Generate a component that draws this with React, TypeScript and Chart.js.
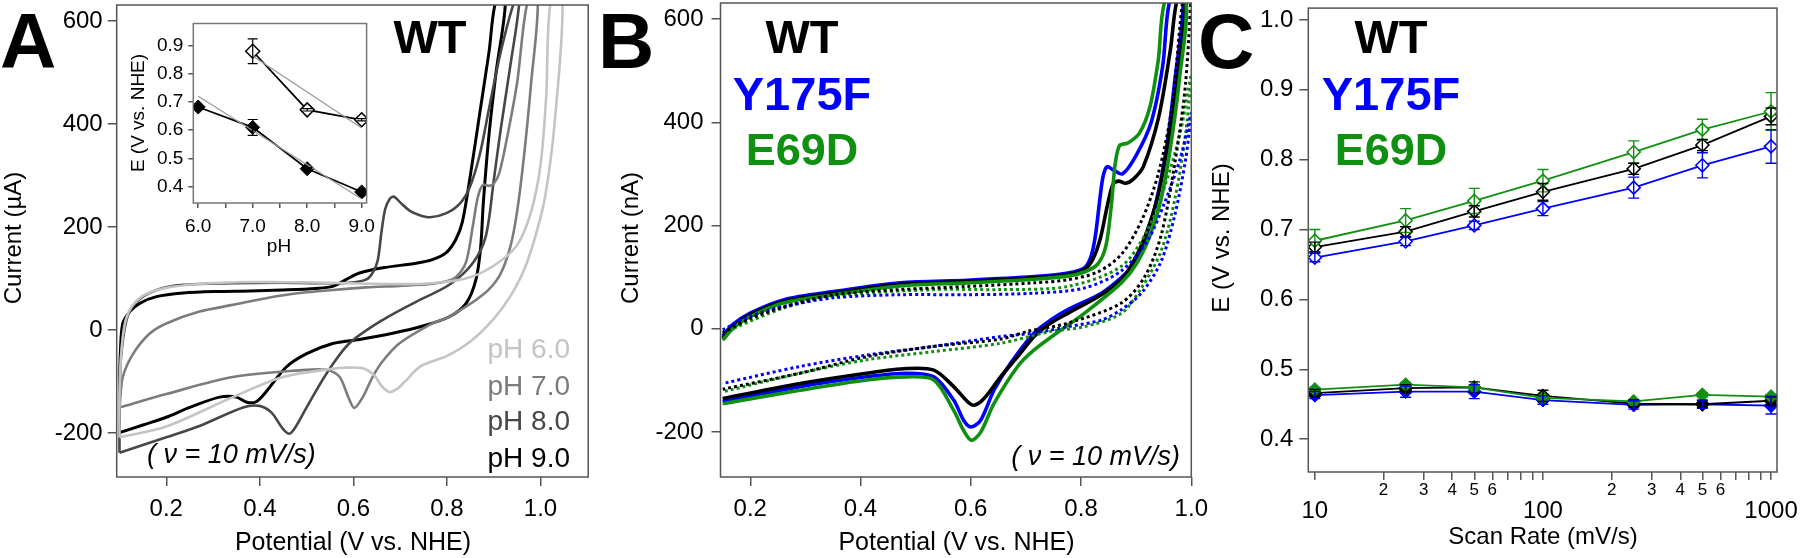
import React, { useEffect, useRef } from 'react';
import { Chart, registerables } from 'chart.js';

Chart.register(...registerables);

const FONT = "'Liberation Sans', Arial, Helvetica, sans-serif";
Chart.defaults.font.family = FONT;

// ---------------- Panel A : CVs of WT at four pH values (uA vs V) ----------------
const phNames = ['pH 6.0', 'pH 7.0', 'pH 8.0', 'pH 9.0'];
const phColors = ['#c4c4c4', '#7c7c7c', '#474747', '#000000'];

const cvPH6: [number, number][] = [
  [0.1, -208], [0.1, -120], [0.105, -30], [0.115, 25], [0.14, 60], [0.18, 78], [0.25, 88], [0.35, 93],
  [0.45, 93], [0.55, 92], [0.65, 90], [0.75, 90], [0.84, 100], [0.9, 125], [0.95, 165], [0.98, 230],
  [1.0, 320], [1.012, 450], [1.022, 640],
  [1.047, 640], [1.03, 400], [1.01, 260], [0.99, 185], [0.965, 117], [0.935, 65], [0.9, 22], [0.85, -22],
  [0.8, -50], [0.744, -70], [0.71, -100], [0.692, -115], [0.677, -120], [0.66, -108], [0.645, -88],
  [0.62, -74], [0.58, -73], [0.556, -75], [0.449, -91], [0.342, -130], [0.2, -187], [0.1, -208],
];
const cvPH7: [number, number][] = [
  [0.1, -150], [0.107, -91], [0.129, -46], [0.164, -7], [0.2, 13], [0.271, 36], [0.342, 49], [0.413, 62],
  [0.485, 72], [0.556, 78], [0.627, 83], [0.698, 86], [0.769, 90], [0.815, 100], [0.84, 130], [0.855, 200],
  [0.866, 258], [0.877, 282], [0.89, 280], [0.9, 284], [0.912, 305], [0.93, 380], [0.95, 480], [0.973, 640],
  [0.994, 640], [0.98, 480], [0.965, 340], [0.95, 230], [0.935, 160], [0.912, 105], [0.876, 68],
  [0.805, 26], [0.769, 13], [0.698, -26], [0.663, -60], [0.641, -91], [0.62, -130], [0.602, -151],
  [0.59, -132], [0.57, -90], [0.542, -77], [0.485, -78], [0.342, -91], [0.2, -124], [0.1, -150],
];
const cvPH8: [number, number][] = [
  [0.1, -238], [0.1, -150], [0.102, -65], [0.115, 20], [0.136, 55], [0.179, 78], [0.236, 88], [0.342, 91],
  [0.449, 92], [0.52, 91], [0.591, 92], [0.627, 98], [0.641, 111], [0.652, 135], [0.66, 190], [0.668, 235],
  [0.678, 255], [0.687, 259], [0.7, 248], [0.72, 232], [0.742, 223], [0.764, 219], [0.799, 227],
  [0.828, 246], [0.849, 278], [0.87, 340], [0.89, 430], [0.915, 540], [0.945, 640],
  [0.955, 640], [0.935, 510], [0.915, 390], [0.9, 290], [0.883, 182], [0.855, 130], [0.805, 88],
  [0.734, 55], [0.663, 20], [0.591, -26], [0.542, -85], [0.5, -150], [0.475, -190], [0.463, -201],
  [0.448, -190], [0.425, -160], [0.399, -147], [0.364, -150], [0.271, -186], [0.2, -208], [0.1, -238],
];
const cvPH9: [number, number][] = [
  [0.1, -199], [0.1, -120], [0.102, -40], [0.107, 13], [0.122, 36], [0.143, 52], [0.179, 65], [0.236, 72],
  [0.307, 75], [0.378, 76], [0.449, 78], [0.52, 81], [0.556, 85], [0.584, 98], [0.613, 111], [0.663, 121],
  [0.734, 130], [0.769, 137], [0.798, 150], [0.819, 176], [0.833, 210], [0.85, 300], [0.87, 420],
  [0.89, 540], [0.905, 640],
  [0.925, 640], [0.905, 500], [0.89, 380], [0.878, 250], [0.872, 160], [0.862, 98], [0.841, 52],
  [0.805, 26], [0.741, 6], [0.684, -6], [0.613, -18], [0.556, -26], [0.499, -46], [0.456, -72],
  [0.413, -120], [0.392, -139], [0.372, -140], [0.35, -130], [0.314, -130], [0.25, -150], [0.2, -169],
  [0.15, -184], [0.1, -199],
];
const potentialTicks = [0.2, 0.4, 0.6, 0.8, 1.0];
const currentTicks = [-200, 0, 200, 400, 600];

// ---------------- Inset : peak potential vs pH ----------------
const insetPH = [6.0, 7.0, 8.0, 9.0];
const insetCathodicE = [0.682, 0.61, 0.464, 0.382];
const insetCathodicErr = [0.004, 0.028, 0.004, 0.004];
const insetAnodicPH = [7.0, 8.0, 9.0];
const insetAnodicE = [0.879, 0.672, 0.637];
const insetAnodicErr = [0.044, 0.004, 0.004];
const insetCathodicFitPH = [6.0, 9.0];
const insetCathodicFitE = [0.72, 0.357];
const insetAnodicFitPH = [7.0, 9.0];
const insetAnodicFitE = [0.862, 0.608];
const insetXTicks = [6.0, 6.5, 7.0, 7.5, 8.0, 8.5, 9.0];
const insetYTicks = [0.4, 0.5, 0.6, 0.7, 0.8, 0.9];

// ---------------- Panel B : WT / Y175F / E69D CVs (nA vs V) ----------------
const mutantNames = ['WT', 'Y175F', 'E69D'];
const mutantColors = ['#000000', '#0000ff', '#109010'];

const cvWT: [number, number][] = [
  [0.15, -18], [0.168, 4], [0.199, 27], [0.26, 53], [0.351, 69], [0.472, 86], [0.594, 92], [0.715, 99],
  [0.776, 105], [0.806, 115], [0.821, 134], [0.835, 175], [0.848, 240], [0.858, 280], [0.868, 286],
  [0.881, 282], [0.895, 290], [0.913, 314], [0.941, 411], [0.962, 540], [0.975, 640],
  [0.99, 640], [0.975, 480], [0.958, 360], [0.94, 260], [0.92, 190], [0.9, 140], [0.873, 95], [0.837, 66],
  [0.776, 30], [0.745, 11], [0.715, -15], [0.685, -54], [0.654, -93], [0.624, -135], [0.606, -148],
  [0.594, -141], [0.569, -112], [0.533, -80], [0.484, -77], [0.411, -86], [0.29, -106], [0.15, -135],
];
const cvY175F: [number, number][] = [
  [0.15, -14], [0.168, 8], [0.199, 30], [0.26, 56], [0.351, 72], [0.472, 89], [0.594, 94], [0.715, 101],
  [0.776, 108], [0.806, 118], [0.818, 140], [0.826, 180], [0.834, 250], [0.84, 295], [0.847, 314],
  [0.858, 308], [0.875, 300], [0.899, 334], [0.927, 399], [0.948, 508], [0.962, 640],
  [0.985, 640], [0.97, 480], [0.955, 350], [0.935, 240], [0.915, 170], [0.895, 125], [0.873, 99],
  [0.837, 69], [0.776, 37], [0.745, 17], [0.715, -8], [0.672, -67], [0.642, -119], [0.618, -177],
  [0.6, -190], [0.587, -177], [0.569, -138], [0.533, -93], [0.484, -86], [0.411, -93], [0.29, -112],
  [0.15, -141],
];
const cvE69D: [number, number][] = [
  [0.15, -22], [0.168, 0], [0.199, 23], [0.26, 50], [0.351, 66], [0.472, 83], [0.594, 89], [0.715, 96],
  [0.776, 102], [0.806, 110], [0.83, 125], [0.845, 160], [0.855, 240], [0.862, 320], [0.87, 355],
  [0.885, 360], [0.906, 379], [0.925, 430], [0.94, 520], [0.954, 640],
  [0.99, 640], [0.978, 480], [0.962, 350], [0.945, 250], [0.925, 180], [0.9, 125], [0.873, 89],
  [0.806, 30], [0.764, -2], [0.715, -41], [0.685, -73], [0.642, -145], [0.618, -200], [0.601, -216],
  [0.587, -197], [0.569, -158], [0.533, -99], [0.484, -93], [0.411, -99], [0.29, -119], [0.15, -145],
];
const cvWTControl: [number, number][] = [
  [0.15, -8], [0.2, 20], [0.26, 42], [0.351, 66], [0.472, 76], [0.594, 82], [0.715, 89], [0.776, 95],
  [0.83, 110], [0.873, 144], [0.91, 210], [0.94, 300], [0.965, 430], [0.985, 640],
  [1.0, 700], [0.99, 480], [0.97, 320], [0.945, 180], [0.915, 100], [0.873, 50], [0.776, 11],
  [0.703, -5], [0.654, -20], [0.533, -34], [0.411, -54], [0.29, -86], [0.15, -117],
];
const cvY175FControl: [number, number][] = [
  [0.15, -2], [0.199, 24], [0.26, 43], [0.351, 60], [0.472, 66], [0.594, 66], [0.715, 69], [0.806, 79],
  [0.873, 112], [0.92, 170], [0.95, 240], [0.98, 330], [1.0, 418],
  [0.99, 330], [0.97, 220], [0.945, 130], [0.91, 70], [0.873, 37], [0.837, 17], [0.776, 4], [0.715, -8],
  [0.654, -15], [0.533, -34], [0.411, -51], [0.29, -73], [0.15, -106],
];
const cvE69DControl: [number, number][] = [
  [0.15, -8], [0.26, 40], [0.351, 63], [0.533, 76], [0.654, 76], [0.776, 82], [0.873, 121], [0.92, 190],
  [0.95, 270], [0.98, 380], [1.0, 492],
  [0.99, 380], [0.97, 250], [0.945, 150], [0.91, 80], [0.873, 30], [0.806, 4], [0.745, -5], [0.654, -28],
  [0.533, -44], [0.411, -60], [0.29, -86], [0.15, -122],
];

// ---------------- Panel C : peak potentials vs scan rate ----------------
const scanRates = [10, 25, 50, 100, 250, 500, 1000];
const wtAnodic = [0.675, 0.697, 0.726, 0.754, 0.787, 0.821, 0.862];
const wtAnodicErr = [0.007, 0.007, 0.008, 0.012, 0.008, 0.008, 0.012];
const y175fAnodic = [0.66, 0.683, 0.706, 0.73, 0.76, 0.792, 0.819];
const y175fAnodicErr = [0.006, 0.006, 0.006, 0.01, 0.015, 0.018, 0.024];
const e69dAnodic = [0.684, 0.713, 0.741, 0.77, 0.811, 0.843, 0.869];
const e69dAnodicErr = [0.016, 0.017, 0.018, 0.016, 0.016, 0.015, 0.027];
const wtCathodic = [0.466, 0.473, 0.474, 0.462, 0.451, 0.45, 0.455];
const wtCathodicErr = [0.005, 0.005, 0.008, 0.008, 0.005, 0.005, 0.006];
const y175fCathodic = [0.463, 0.468, 0.468, 0.456, 0.449, 0.45, 0.448];
const y175fCathodicErr = [0.005, 0.008, 0.01, 0.006, 0.006, 0.006, 0.012];
const e69dCathodic = [0.471, 0.478, 0.474, 0.459, 0.454, 0.4635, 0.461];
const e69dCathodicErr = [0.003, 0.003, 0.003, 0.003, 0.003, 0.003, 0.003];
const scanTickValues = [10, 20, 30, 40, 50, 60, 70, 80, 90, 100, 200, 300, 400, 500, 600, 700, 800, 900, 1000];
const scanMajorLabels = ['10', '100', '1000'];
const scanMajorValues = [10, 100, 1000];
const scanMinorLabels = ['2', '3', '4', '5', '6', '2', '3', '4', '5', '6'];
const scanMinorValues = [20, 30, 40, 50, 60, 200, 300, 400, 500, 600];
const potentialETicks = [0.4, 0.5, 0.6, 0.7, 0.8, 0.9, 1.0];

// ---------------- helpers ----------------
const AXIS_COLOR = '#555555';
const toXY = (pts: [number, number][]) => pts.map(([x, y]) => ({ x, y }));
const zipXY = (xs: number[], ys: number[]) => xs.map((x, i) => ({ x, y: ys[i] }));

function makeAxis(o: {
  type?: string; min: number; max: number; ticks: number[]; fit: number; horizontal: boolean;
  tickLen: number; pad: number; fontSize: number; fmt: (v: number) => string; showLabels?: boolean;
}) {
  return {
    type: o.type ?? 'linear',
    min: o.min,
    max: o.max,
    afterBuildTicks: (s: any) => { s.ticks = o.ticks.map((v) => ({ value: v })); },
    afterFit: (s: any) => {
      if (o.horizontal) s.height = o.fit; else s.width = o.fit;
      s.paddingLeft = 0; s.paddingRight = 0; s.paddingTop = 0; s.paddingBottom = 0;
    },
    grid: { display: true, drawOnChartArea: false, drawTicks: true, tickLength: o.tickLen, color: AXIS_COLOR, lineWidth: 1.5 },
    border: { display: false },
    ticks: {
      display: o.showLabels !== false, autoSkip: false, maxRotation: 0, minRotation: 0, padding: o.pad,
      color: '#000', font: { family: FONT, size: o.fontSize }, callback: (v: any) => o.fmt(Number(v)),
    },
  };
}

const framePlugin = (color: string, width: number) => ({
  id: 'frame',
  afterDatasetsDraw(chart: any) {
    const { ctx, chartArea: a } = chart;
    ctx.save();
    ctx.strokeStyle = color; ctx.lineWidth = width;
    ctx.strokeRect(a.left, a.top, a.right - a.left, a.bottom - a.top);
    ctx.restore();
  },
});

const errorBarPlugin = (cap: number, width: number) => ({
  id: 'errorBars',
  afterDatasetsDraw(chart: any) {
    const { ctx, chartArea: a } = chart;
    const ys = chart.scales.y;
    ctx.save();
    ctx.beginPath(); ctx.rect(a.left, a.top, a.right - a.left, a.bottom - a.top); ctx.clip();
    chart.data.datasets.forEach((ds: any, i: number) => {
      if (!ds.errors) return;
      const meta = chart.getDatasetMeta(i);
      ctx.strokeStyle = ds.borderColor; ctx.lineWidth = width;
      ds.data.forEach((p: any, j: number) => {
        const e = ds.errors[j];
        if (!e) return;
        const x = meta.data[j].x;
        const y1 = ys.getPixelForValue(p.y + e);
        const y2 = ys.getPixelForValue(p.y - e);
        ctx.beginPath();
        ctx.moveTo(x, y1); ctx.lineTo(x, y2);
        ctx.moveTo(x - cap, y1); ctx.lineTo(x + cap, y1);
        ctx.moveTo(x - cap, y2); ctx.lineTo(x + cap, y2);
        ctx.stroke();
      });
    });
    ctx.restore();
  },
});

type TextItem = { t: string; x: number; y: number; size: number; color?: string; weight?: string; style?: string; align?: CanvasTextAlign; rot?: boolean };
const textPlugin = (items: TextItem[], ox: number, oy: number) => ({
  id: 'texts',
  afterDraw(chart: any) {
    const ctx = chart.ctx as CanvasRenderingContext2D;
    items.forEach((it) => {
      ctx.save();
      ctx.font = `${it.style ?? 'normal'} ${it.weight ?? 'normal'} ${it.size}px ${FONT}`;
      ctx.fillStyle = it.color ?? '#000';
      ctx.textAlign = it.align ?? 'left';
      ctx.textBaseline = 'alphabetic';
      ctx.translate(it.x - ox, it.y - oy);
      if (it.rot) ctx.rotate(-Math.PI / 2);
      ctx.fillText(it.t, 0, 0);
      ctx.restore();
    });
  },
});

const logLabelPlugin = {
  id: 'logLabels',
  afterDraw(chart: any) {
    const ctx = chart.ctx as CanvasRenderingContext2D;
    const xs = chart.scales.x;
    ctx.save();
    ctx.fillStyle = '#000';
    ctx.textAlign = 'center';
    ctx.textBaseline = 'middle';
    ctx.font = `17px ${FONT}`;
    scanMinorValues.forEach((v, i) => ctx.fillText(scanMinorLabels[i], xs.getPixelForValue(v), 490));
    ctx.font = `24px ${FONT}`;
    scanMajorValues.forEach((v, i) => ctx.fillText(scanMajorLabels[i], xs.getPixelForValue(v), 511));
    ctx.restore();
  },
};

const baseOptions = (padding: any) => ({
  animation: false as const,
  responsive: false,
  maintainAspectRatio: false,
  layout: { padding },
  plugins: { legend: { display: false }, tooltip: { enabled: false }, title: { display: false } },
});

// ---------------- configs ----------------
function configA(): any {
  const loops = [cvPH6, cvPH7, cvPH8, cvPH9];
  return {
    type: 'scatter',
    data: {
      datasets: loops.map((pts, i) => ({
        data: toXY(pts), showLine: true, borderColor: phColors[i], borderWidth: i === 3 ? 3 : 2.6,
        pointRadius: 0, tension: 0.3, fill: false,
      })),
    },
    options: {
      ...baseOptions({ left: 0, top: 5, right: 11.8, bottom: 0 }),
      scales: {
        x: makeAxis({ min: 0.094, max: 1.102, ticks: potentialTicks, fit: 81, horizontal: true, tickLen: 9, pad: 9, fontSize: 24, fmt: (v) => v.toFixed(1) }),
        y: makeAxis({ min: -285, max: 631, ticks: currentTicks, fit: 116.7, horizontal: false, tickLen: 9, pad: 5, fontSize: 24, fmt: (v) => String(v) }),
      },
    },
    plugins: [
      framePlugin(AXIS_COLOR, 1.5),
      textPlugin([
        { t: 'A', x: 0, y: 68, size: 78, weight: 'bold' },
        { t: 'WT', x: 430, y: 53, size: 47, weight: 'bold', align: 'center' },
        ...phNames.map((n, i) => ({ t: n, x: 570, y: [358, 395, 430, 467][i], size: 28, color: phColors[i], align: 'right' as CanvasTextAlign })),
        { t: '( ν = 10 mV/s)', x: 147, y: 463, size: 27, style: 'italic' },
        { t: 'Current (µA)', x: 21, y: 238, size: 24, align: 'center', rot: true },
        { t: 'Potential (V vs. NHE)', x: 353, y: 550, size: 25, align: 'center' },
      ], 0, 0),
    ],
  };
}

function configInset(): any {
  return {
    type: 'scatter',
    data: {
      datasets: [
        { data: zipXY(insetAnodicFitPH, insetAnodicFitE), showLine: true, borderColor: '#9a9a9a', borderWidth: 1.3, pointRadius: 0 },
        { data: zipXY(insetCathodicFitPH, insetCathodicFitE), showLine: true, borderColor: '#9a9a9a', borderWidth: 1.3, pointRadius: 0 },
        {
          data: zipXY(insetPH, insetCathodicE), errors: insetCathodicErr, showLine: true, borderColor: '#000', borderWidth: 1.8,
          pointStyle: 'rectRot', pointRadius: 7, pointBackgroundColor: '#000', pointBorderColor: '#000', pointBorderWidth: 1,
        },
        {
          data: zipXY(insetAnodicPH, insetAnodicE), errors: insetAnodicErr, showLine: true, borderColor: '#000', borderWidth: 1.8,
          pointStyle: 'rectRot', pointRadius: 7, pointBackgroundColor: '#fff', pointBorderColor: '#000', pointBorderWidth: 1.5,
        },
      ],
    },
    options: {
      ...baseOptions({ left: 0, top: 7, right: 13.4, bottom: 0 }),
      scales: {
        x: makeAxis({ min: 5.91, max: 9.09, ticks: insetXTicks, fit: 57, horizontal: true, tickLen: 5, pad: 7, fontSize: 19, fmt: (v) => (Math.abs(v - Math.round(v)) < 1e-6 ? v.toFixed(1) : '') }),
        y: makeAxis({ min: 0.343, max: 0.977, ticks: insetYTicks, fit: 63.3, horizontal: false, tickLen: 5, pad: 5, fontSize: 19, fmt: (v) => v.toFixed(1) }),
      },
    },
    plugins: [
      framePlugin('#777777', 1.5),
      errorBarPlugin(5, 1.2),
      textPlugin([
        { t: 'E (V vs. NHE)', x: 143.5, y: 113, size: 19, align: 'center', rot: true },
        { t: 'pH', x: 279, y: 252, size: 19, align: 'center' },
      ], 130, 15),
    ],
  };
}

function configB(): any {
  const solid = [cvWT, cvY175F, cvE69D];
  const dotted = [cvWTControl, cvY175FControl, cvE69DControl];
  return {
    type: 'scatter',
    data: {
      datasets: [
        ...dotted.map((pts, i) => ({
          data: toXY(pts), showLine: true, borderColor: mutantColors[i], borderWidth: 3, borderDash: [3, 3],
          pointRadius: 0, tension: 0.3, fill: false,
        })),
        ...[2, 0, 1].map((i) => ({
          data: toXY(solid[i]), showLine: true, borderColor: mutantColors[i], borderWidth: 3.6,
          pointRadius: 0, tension: 0.3, fill: false,
        })),
      ],
    },
    options: {
      ...baseOptions({ left: 0, top: 3, right: 68.7, bottom: 0 }),
      scales: {
        x: makeAxis({ min: 0.146, max: 1.0, ticks: potentialTicks, fit: 81, horizontal: true, tickLen: 9, pad: 9, fontSize: 24, fmt: (v) => v.toFixed(1) }),
        y: makeAxis({ min: -287, max: 631, ticks: currentTicks, fit: 120.5, horizontal: false, tickLen: 9, pad: 8, fontSize: 24, fmt: (v) => String(v) }),
      },
    },
    plugins: [
      framePlugin(AXIS_COLOR, 1.5),
      textPlugin([
        { t: 'B', x: 598, y: 68, size: 78, weight: 'bold' },
        ...mutantNames.map((n, i) => ({ t: n, x: 802, y: [53, 110, 165][i], size: i === 2 ? 45 : 47, weight: 'bold', color: mutantColors[i], align: 'center' as CanvasTextAlign })),
        { t: '( ν = 10 mV/s)', x: 1180, y: 465, size: 27, style: 'italic', align: 'right' },
        { t: 'Current (nA)', x: 638, y: 238, size: 24, align: 'center', rot: true },
        { t: 'Potential (V vs. NHE)', x: 956.5, y: 550, size: 25, align: 'center' },
      ], 600, 0),
    ],
  };
}

function configC(): any {
  const anodic = [wtAnodic, y175fAnodic, e69dAnodic];
  const anodicErr = [wtAnodicErr, y175fAnodicErr, e69dAnodicErr];
  const cathodic = [wtCathodic, y175fCathodic, e69dCathodic];
  const cathodicErr = [wtCathodicErr, y175fCathodicErr, e69dCathodicErr];
  const order = [2, 0, 1];
  return {
    type: 'scatter',
    data: {
      datasets: [
        ...order.map((i) => ({
          data: zipXY(scanRates, anodic[i]), errors: anodicErr[i], showLine: true, borderColor: mutantColors[i], borderWidth: 1.8,
          pointStyle: 'rectRot', pointRadius: 6.5, pointBackgroundColor: '#fff', pointBorderColor: mutantColors[i], pointBorderWidth: 1.6, tension: 0,
        })),
        ...order.map((i) => ({
          data: zipXY(scanRates, cathodic[i]), errors: cathodicErr[i], showLine: true, borderColor: mutantColors[i], borderWidth: 1.8,
          pointStyle: 'rectRot', pointRadius: 7, pointBackgroundColor: mutantColors[i], pointBorderColor: mutantColors[i], pointBorderWidth: 1, tension: 0,
        })),
      ],
    },
    options: {
      ...baseOptions({ left: 0, top: 4, right: 23, bottom: 0 }),
      scales: {
        x: makeAxis({ type: 'logarithmic', min: 9.36, max: 1062, ticks: scanTickValues, fit: 86, horizontal: true, tickLen: 8, pad: 6, fontSize: 24, fmt: (v) => String(v), showLabels: false }),
        y: makeAxis({ min: 0.353, max: 1.017, ticks: potentialETicks, fit: 108.3, horizontal: false, tickLen: 9, pad: 6, fontSize: 24, fmt: (v) => v.toFixed(1) }),
      },
    },
    plugins: [
      framePlugin(AXIS_COLOR, 1.5),
      errorBarPlugin(5.5, 1.4),
      logLabelPlugin,
      textPlugin([
        { t: 'C', x: 1198, y: 68, size: 78, weight: 'bold' },
        ...mutantNames.map((n, i) => ({ t: n, x: 1391, y: [53, 110, 165][i], size: i === 2 ? 45 : 47, weight: 'bold', color: mutantColors[i], align: 'center' as CanvasTextAlign })),
        { t: 'E (V vs. NHE)', x: 1229, y: 238, size: 24, align: 'center', rot: true },
        { t: 'Scan Rate (mV/s)', x: 1543, y: 544, size: 24, align: 'center' },
      ], 1200, 0),
    ],
  };
}

export default function App() {
  const refA = useRef<HTMLCanvasElement>(null);
  const refInset = useRef<HTMLCanvasElement>(null);
  const refB = useRef<HTMLCanvasElement>(null);
  const refC = useRef<HTMLCanvasElement>(null);

  useEffect(() => {
    const charts = [
      new Chart(refA.current!, configA()),
      new Chart(refB.current!, configB()),
      new Chart(refC.current!, configC()),
      new Chart(refInset.current!, configInset()),
    ];
    return () => charts.forEach((c) => c.destroy());
  }, []);

  const abs = (left: number, top: number): React.CSSProperties => ({ position: 'absolute', left, top });
  return (
    <div style={{ position: 'fixed', left: 0, top: 0, width: 1800, height: 558, background: '#fff', overflow: 'hidden' }}>
      <canvas ref={refA} width={600} height={558} style={abs(0, 0)} />
      <canvas ref={refB} width={660} height={558} style={abs(600, 0)} />
      <canvas ref={refC} width={600} height={558} style={abs(1200, 0)} />
      <canvas ref={refInset} width={250} height={245} style={abs(130, 15)} />
    </div>
  );
}
